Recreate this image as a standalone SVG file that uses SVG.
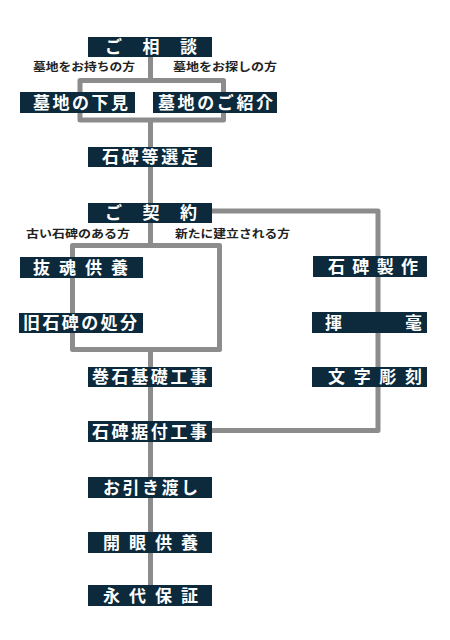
<svg xmlns="http://www.w3.org/2000/svg" width="450" height="640" viewBox="0 0 450 640">
<style>
.bx{fill:#0c2a3b}
.t{fill:#fff;font-family:"Noto Sans CJK JP","Noto Sans",sans-serif;font-weight:bold;font-size:17px}
.s{fill:#222;font-family:"Noto Sans CJK JP","Noto Sans",sans-serif;font-weight:bold;font-size:11px}
.ln{fill:none;stroke:#8c8c8c;stroke-width:5;stroke-linejoin:round}
</style>
<rect width="450" height="640" fill="#fff"/>
<g id="connectors">
<path class="ln" d="M150.5,57 V80.5"/>
<path class="ln" d="M80,80.5 H223.5 V120 H80 Z"/>
<path class="ln" d="M150.5,120 V147"/>
<path class="ln" d="M150.5,167 V203"/>
<path class="ln" d="M212,211 H378 V430.5 H212"/>
<path class="ln" d="M150.5,223 V245.5"/>
<path class="ln" d="M72.5,245.5 H219.5 V349.5 H72.5 Z"/>
<path class="ln" d="M150.5,349.5 V367"/>
<path class="ln" d="M150.5,387 V421"/>
<path class="ln" d="M150.5,442 V585"/>
</g>
<g id="labels">
<text class="s" x="33" y="71" textLength="102" lengthAdjust="spacingAndGlyphs">墓地をお持ちの方</text>
<text class="s" x="173" y="71" textLength="104" lengthAdjust="spacingAndGlyphs">墓地をお探しの方</text>
<text class="s" x="26" y="238" textLength="104" lengthAdjust="spacingAndGlyphs">古い石碑のある方</text>
<text class="s" x="175" y="238" textLength="115" lengthAdjust="spacingAndGlyphs">新たに建立される方</text>
</g>
<g id="n1"><rect class="bx" x="88" y="37" width="124" height="20"/><text class="t" x="105" y="53" textLength="92" lengthAdjust="spacing">ご相談</text></g>
<g id="n2"><rect class="bx" x="20" y="92" width="115" height="21"/><text class="t" x="33" y="108.5" textLength="95" lengthAdjust="spacing">墓地の下見</text></g>
<g id="n3"><rect class="bx" x="153" y="92" width="124" height="21"/><text class="t" x="158" y="108.5" textLength="115" lengthAdjust="spacing">墓地のご紹介</text></g>
<g id="n4"><rect class="bx" x="88" y="147" width="124" height="20"/><text class="t" x="102" y="163" textLength="96" lengthAdjust="spacing">石碑等選定</text></g>
<g id="n5"><rect class="bx" x="88" y="203" width="124" height="20"/><text class="t" x="105" y="219" textLength="92" lengthAdjust="spacing">ご契約</text></g>
<g id="n6"><rect class="bx" x="20" y="257" width="123" height="21"/><text class="t" x="33" y="273.5" textLength="95" lengthAdjust="spacing">抜魂供養</text></g>
<g id="n7"><rect class="bx" x="19" y="313" width="124" height="20"/><text class="t" x="23" y="329" textLength="114" lengthAdjust="spacing">旧石碑の処分</text></g>
<g id="n8"><rect class="bx" x="88" y="367" width="124" height="20"/><text class="t" x="92" y="383" textLength="115" lengthAdjust="spacing">巻石基礎工事</text></g>
<g id="n9"><rect class="bx" x="313" y="256" width="114" height="21"/><text class="t" x="328" y="272.5" textLength="90" lengthAdjust="spacing">石碑製作</text></g>
<g id="n10"><rect class="bx" x="312" y="312" width="115" height="21"/><text class="t" x="325" y="328.5" textLength="97" lengthAdjust="spacing">揮毫</text></g>
<g id="n11"><rect class="bx" x="312" y="367" width="115" height="20"/><text class="t" x="328" y="383" textLength="94" lengthAdjust="spacing">文字彫刻</text></g>
<g id="n12"><rect class="bx" x="88" y="421" width="124" height="21"/><text class="t" x="92" y="437.5" textLength="115" lengthAdjust="spacing">石碑据付工事</text></g>
<g id="n13"><rect class="bx" x="88" y="477" width="124" height="21"/><text class="t" x="103" y="493.5" textLength="95" lengthAdjust="spacing">お引き渡し</text></g>
<g id="n14"><rect class="bx" x="88" y="532" width="124" height="21"/><text class="t" x="103" y="548.5" textLength="95" lengthAdjust="spacing">開眼供養</text></g>
<g id="n15"><rect class="bx" x="88" y="585" width="124" height="21"/><text class="t" x="103" y="601.5" textLength="95" lengthAdjust="spacing">永代保証</text></g>
</svg>
